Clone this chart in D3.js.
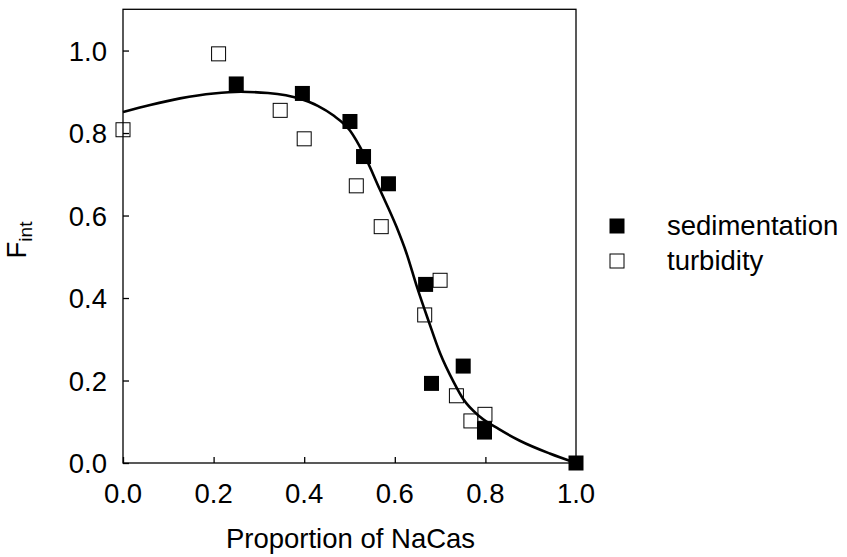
<!DOCTYPE html>
<html>
<head>
<meta charset="utf-8">
<script src="https://cdn.jsdelivr.net/npm/d3@7"></script>
<style>
  html, body { margin: 0; padding: 0; background: #fff; }
  svg { display: block; }
  text { font-family: "Liberation Sans", Arial, sans-serif; fill: #000; }
</style>
</head>
<body>
<svg id="chart" width="847" height="557"></svg>
<script>
// ---- data ----
const sedimentationX = [0.25, 0.396, 0.501, 0.531, 0.586, 0.668, 0.751, 0.681, 0.798, 0.798, 1.0];
const sedimentationY = [0.919, 0.896, 0.828, 0.743, 0.677, 0.433, 0.235, 0.193, 0.083, 0.075, 0.0];

const turbidityX = [0.0, 0.211, 0.347, 0.400, 0.515, 0.570, 0.666, 0.700, 0.736, 0.768, 0.799];
const turbidityY = [0.808, 0.992, 0.855, 0.786, 0.672, 0.573, 0.359, 0.443, 0.163, 0.102, 0.118];

const fitX = [0.0, 0.06, 0.126, 0.2, 0.26, 0.32, 0.391, 0.43, 0.464, 0.501, 0.531, 0.567, 0.604, 0.626, 0.648, 0.674, 0.70, 0.73, 0.751, 0.788, 0.83, 0.876, 0.942, 1.0];
const fitY = [0.851, 0.868, 0.884, 0.896, 0.900, 0.897, 0.883, 0.866, 0.843, 0.806, 0.750, 0.663, 0.572, 0.508, 0.430, 0.346, 0.266, 0.196, 0.155, 0.112, 0.082, 0.054, 0.023, 0.0];

const xTicks = [0.0, 0.2, 0.4, 0.6, 0.8, 1.0];
const yTicks = [0.0, 0.2, 0.4, 0.6, 0.8, 1.0];
const seriesNames = ["sedimentation", "turbidity"];

// ---- layout ----
const svg = d3.select("#chart");
const x = d3.scaleLinear().domain([0, 1.0]).range([123, 576]);
const y = d3.scaleLinear().domain([0, 1.1]).range([463, 9.3]);
const FS = 27.5;
const MS = 15; // marker size

// points
const sq = 14;
const g = svg.append("g");
const turb = turbidityX.map((v, i) => ({x: v, y: turbidityY[i]}));
const sed = sedimentationX.map((v, i) => ({x: v, y: sedimentationY[i]}));

g.selectAll("rect.turb").data(turb).enter().append("rect")
  .attr("class", "turb")
  .attr("x", d => x(d.x) - sq / 2).attr("y", d => y(d.y) - sq / 2)
  .attr("width", sq).attr("height", sq)
  .attr("fill", "#fff").attr("stroke", "#000").attr("stroke-width", 1);

g.selectAll("rect.sed").data(sed).enter().append("rect")
  .attr("class", "sed")
  .attr("x", d => x(d.x) - MS / 2).attr("y", d => y(d.y) - MS / 2)
  .attr("width", MS).attr("height", MS)
  .attr("fill", "#000");

// fit line
const fit = fitX.map((v, i) => [v, fitY[i]]);
svg.append("path")
  .attr("d", d3.line().x(d => x(d[0])).y(d => y(d[1])).curve(d3.curveMonotoneX)(fit))
  .attr("fill", "none").attr("stroke", "#000").attr("stroke-width", 2.6);

// frame
svg.append("rect")
  .attr("x", x(0)).attr("y", y(1.1))
  .attr("width", x(1) - x(0)).attr("height", y(0) - y(1.1))
  .attr("fill", "none").attr("stroke", "#000").attr("stroke-width", 1.3);

// axes (inward ticks)
const xAxis = d3.axisTop(x).tickValues(xTicks).tickSize(6).tickFormat("");
svg.append("g").attr("transform", `translate(0,${y(0)})`).call(xAxis)
  .call(s => s.select(".domain").remove())
  .call(s => s.selectAll("line").attr("stroke", "#000").attr("stroke-width", 1.3));
const yAxis = d3.axisRight(y).tickValues(yTicks).tickSize(6).tickFormat("");
svg.append("g").attr("transform", `translate(${x(0)},0)`).call(yAxis)
  .call(s => s.select(".domain").remove())
  .call(s => s.selectAll("line").attr("stroke", "#000").attr("stroke-width", 1.3));

// tick labels
svg.append("g").selectAll("text").data(xTicks).enter().append("text")
  .attr("x", d => x(d)).attr("y", 503)
  .attr("text-anchor", "middle").attr("font-size", FS)
  .text(d3.format(".1f"));
svg.append("g").selectAll("text").data(yTicks).enter().append("text")
  .attr("x", 107).attr("y", d => y(d) + 10)
  .attr("text-anchor", "end").attr("font-size", FS)
  .text(d3.format(".1f"));

// axis titles
svg.append("text")
  .attr("x", 350.5).attr("y", 548)
  .attr("text-anchor", "middle").attr("font-size", FS)
  .text("Proportion of NaCas");

const yl = svg.append("text")
  .attr("transform", "translate(26,240) rotate(-90)")
  .attr("text-anchor", "middle").attr("font-size", FS);
yl.append("tspan").text("F");
yl.append("tspan").attr("font-size", 19).attr("dy", 6).text("int");

// legend
const leg = svg.append("g");
leg.append("rect").attr("x", 617 - 7.5).attr("y", 226 - 7.5).attr("width", 15).attr("height", 15).attr("fill", "#000");
leg.append("rect").attr("x", 617 - 7).attr("y", 261 - 7).attr("width", 14).attr("height", 14)
  .attr("fill", "#fff").attr("stroke", "#000").attr("stroke-width", 1);
leg.append("text").attr("x", 667).attr("y", 235).attr("font-size", FS).text(seriesNames[0]);
leg.append("text").attr("x", 667).attr("y", 270).attr("font-size", FS).text(seriesNames[1]);
</script>
</body>
</html>
